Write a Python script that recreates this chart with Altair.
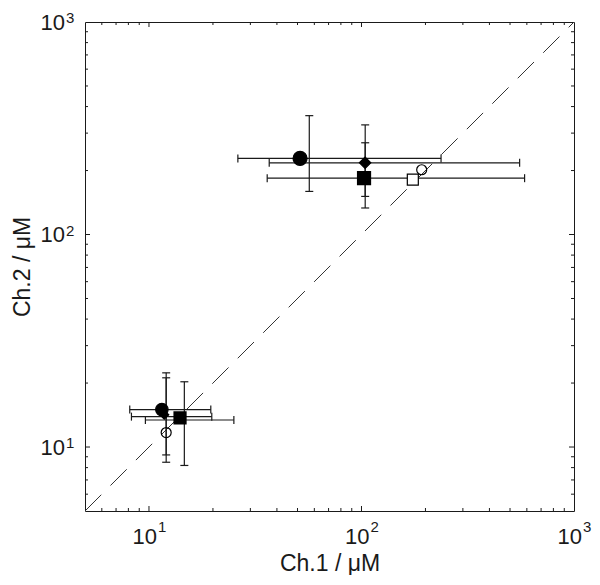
import altair as alt
import pandas as pd

# ---------------- data ----------------
# markers
mk_x = [51.4, 104.0, 102.8, 174.4, 192.0, 11.5, 11.8, 14.0, 12.05]
mk_y = [228.0, 217.5, 184.1, 181.1, 201.7, 15.0, 14.2, 13.7, 11.7]
mk_shape = ["circle", "diamond", "square", "square", "circle",
            "circle", "diamond", "square", "circle"]
mk_kind = ["filled", "filled", "filled", "open_white", "open",
           "filled", "filled", "filled", "open"]
mk_size = [196, 130, 169, 121, 100, 156, 81, 144, 100]

# horizontal (Ch.1) error bars
hb_lo = [26.2, 36.8, 36.0, 8.12, 8.27, 9.62]
hb_hi = [236.8, 554.8, 585.5, 19.54, 19.75, 25.09]
hb_y = [228.0, 217.5, 184.1, 15.0, 13.9, 13.4]

# vertical (Ch.2) error bars
vb_x = [56.8, 104.1, 104.1, 12.05, 12.05, 14.67]
vb_lo = [159.5, 151.1, 133.3, 8.48, 9.18, 8.19]
vb_hi = [362.5, 328.0, 270.2, 22.34, 21.17, 20.28]

# identity line
line_x = [5, 1000]
line_y = [5, 1000]

# axes
domain = [5, 1000]
tick_vals = [10, 100, 1000]
label_base = ["10", "10", "10"]
label_exp = ["1", "2", "3"]
major_ticks = [10, 100]
minor_ticks = [6, 7, 8, 9, 20, 30, 40, 50, 60, 70, 80, 90,
               200, 300, 400, 500, 600, 700, 800, 900]

W, H = 489, 489
INK = "#1a1a1a"
FONT = "Liberation Sans"
XT = "Ch.1 / μM"
YT = "Ch.2 / μM"

xs = alt.Scale(type="log", domain=domain, nice=False)
ys = alt.Scale(type="log", domain=domain, nice=False)

x_axis = alt.Axis(values=tick_vals, labels=False, grid=False, ticks=False, domain=False,
                  title=XT, titleFont=FONT, titleFontSize=23, titleFontWeight="normal",
                  titleColor=INK, titleX=W / 2, titleY=59, titleBaseline="alphabetic")
y_axis = alt.Axis(values=tick_vals, labels=False, grid=False, ticks=False, domain=False,
                  title=YT, titleFont=FONT, titleFontSize=23, titleFontWeight="normal",
                  titleColor=INK, titleX=-56, titleY=H / 2, titleBaseline="alphabetic",
                  titleAngle=270)


def X(field):
    return alt.X(field, scale=xs, axis=x_axis, title=XT)


def Y(field):
    return alt.Y(field, scale=ys, axis=y_axis, title=YT)


# ---------------- layers ----------------
ldf = pd.DataFrame({"x": line_x, "y": line_y})
diag = alt.Chart(ldf).mark_line(color="#333333", strokeWidth=1, strokeDash=[23, 13],
                                clip=True).encode(x=X("x:Q"), y=Y("y:Q"))

hdf = pd.DataFrame({"lo": hb_lo, "hi": hb_hi, "y": hb_y})
hbars = alt.Chart(hdf).mark_rule(color=INK, strokeWidth=1.2).encode(
    x=X("lo:Q"), x2="hi:Q", y=Y("y:Q"))
hcap_lo = alt.Chart(hdf).mark_point(shape="M0,-1L0,1", size=64, filled=False,
                                    color=INK, strokeWidth=1.2, opacity=1).encode(
    x=X("lo:Q"), y=Y("y:Q"))
hcap_hi = alt.Chart(hdf).mark_point(shape="M0,-1L0,1", size=64, filled=False,
                                    color=INK, strokeWidth=1.2, opacity=1).encode(
    x=X("hi:Q"), y=Y("y:Q"))

vdf = pd.DataFrame({"x": vb_x, "lo": vb_lo, "hi": vb_hi})
vbars = alt.Chart(vdf).mark_rule(color=INK, strokeWidth=1.2).encode(
    x=X("x:Q"), y=Y("lo:Q"), y2="hi:Q")
vcap_lo = alt.Chart(vdf).mark_point(shape="M-1,0L1,0", size=64, filled=False,
                                    color=INK, strokeWidth=1.2, opacity=1).encode(
    x=X("x:Q"), y=Y("lo:Q"))
vcap_hi = alt.Chart(vdf).mark_point(shape="M-1,0L1,0", size=64, filled=False,
                                    color=INK, strokeWidth=1.2, opacity=1).encode(
    x=X("x:Q"), y=Y("hi:Q"))

mdf = pd.DataFrame({"x": mk_x, "y": mk_y, "shape": mk_shape, "kind": mk_kind,
                    "size": mk_size})
markers = alt.Chart(mdf).mark_point(opacity=1, strokeWidth=1.2).encode(
    x=X("x:Q"), y=Y("y:Q"),
    shape=alt.Shape("shape:N", scale=None, legend=None),
    size=alt.Size("size:Q", scale=None, legend=None),
    fill=alt.Fill("kind:N", scale=alt.Scale(domain=["filled", "open_white", "open"],
                                            range=["#000000", "#ffffff", "transparent"]),
                  legend=None),
    stroke=alt.value("#000000"),
)


def tick_layer(vals, length, side, axis_is_x):
    df = pd.DataFrame({"v": vals})
    base = alt.Chart(df).mark_rule(color=INK, strokeWidth=1)
    if axis_is_x:
        enc = dict(x=X("v:Q"))
        if side == "bottom":
            enc.update(y=alt.value(H), y2=alt.value(H - length))
        else:
            enc.update(y=alt.value(0), y2=alt.value(length))
    else:
        enc = dict(y=Y("v:Q"))
        if side == "left":
            enc.update(x=alt.value(0), x2=alt.value(length))
        else:
            enc.update(x=alt.value(W), x2=alt.value(W - length))
    return base.encode(**enc)


tick_layers = []
for side in ["bottom", "top"]:
    tick_layers.append(tick_layer(major_ticks, 5, side, True))
    tick_layers.append(tick_layer(minor_ticks, 3, side, True))
for side in ["left", "right"]:
    tick_layers.append(tick_layer(major_ticks, 5, side, False))
    tick_layers.append(tick_layer(minor_ticks, 3, side, False))

# tick labels: "10" with a raised exponent
lab = pd.DataFrame({"v": tick_vals, "base": label_base, "exp": label_exp})
xl_base = alt.Chart(lab).mark_text(align="right", baseline="alphabetic", dx=8,
                                   font=FONT, fontSize=22, color=INK).encode(
    x=X("v:Q"), y=alt.value(H + 33), text="base:N")
xl_exp = alt.Chart(lab).mark_text(align="left", baseline="alphabetic", dx=9,
                                  font=FONT, fontSize=15, color=INK).encode(
    x=X("v:Q"), y=alt.value(H + 21), text="exp:N")
yl_base = alt.Chart(lab).mark_text(align="right", baseline="alphabetic", dy=7.5,
                                   font=FONT, fontSize=22, color=INK).encode(
    y=Y("v:Q"), x=alt.value(-20), text="base:N")
yl_exp = alt.Chart(lab).mark_text(align="left", baseline="alphabetic", dy=1,
                                  font=FONT, fontSize=15, color=INK).encode(
    y=Y("v:Q"), x=alt.value(-19), text="exp:N")

chart = alt.layer(
    diag, hbars, hcap_lo, hcap_hi, vbars, vcap_lo, vcap_hi, markers, *tick_layers,
    xl_base, xl_exp, yl_base, yl_exp
).properties(
    width=W, height=H,
    autosize=alt.AutoSizeParams(type="none"),
    padding={"left": 77, "top": 14, "right": 18, "bottom": 64},
    background="white",
).configure_view(stroke=INK, strokeWidth=1)

chart.save("out.html", embed_options={"renderer": "svg", "actions": False})
